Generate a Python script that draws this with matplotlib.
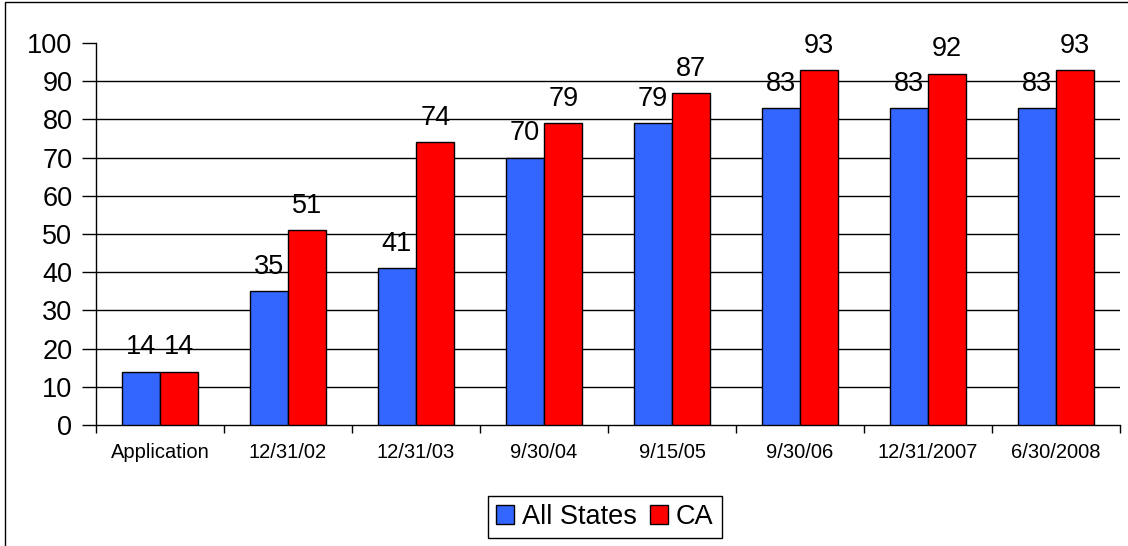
import matplotlib.pyplot as plt
import numpy as np
from matplotlib.patches import Rectangle

categories = ['Application', '12/31/02', '12/31/03', '9/30/04', '9/15/05',
              '9/30/06', '12/31/2007', '6/30/2008']
all_states = [14, 35, 41, 70, 79, 83, 83, 83]
ca = [14, 51, 74, 79, 87, 93, 92, 93]

BLUE = '#3366FF'
RED = '#FF0000'

plt.rcParams['font.family'] = ['Liberation Sans', 'DejaVu Sans']

fig = plt.figure(figsize=(11.28, 5.46), dpi=100)
ax = fig.add_axes([96 / 1128, 1 - 425 / 546, (1120 - 96) / 1128, (425 - 43) / 546])

x = np.arange(len(categories))
width = 0.3
bars_a = ax.bar(x - width / 2, all_states, width, color=BLUE, edgecolor='black',
                linewidth=1, label='All States', zorder=3)
bars_c = ax.bar(x + width / 2, ca, width, color=RED, edgecolor='black',
                linewidth=1, label='CA', zorder=3)
for bars in (bars_a, bars_c):
    ax.bar_label(bars, padding=8, fontsize=19.5)

ax.set_xlim(-0.5, len(categories) - 0.5)
ax.set_ylim(0, 100)
ax.set_yticks(range(0, 101, 10))
for v in range(10, 100, 10):
    ax.axhline(v, color='black', linewidth=1, zorder=1)

ax.set_xticks(x)
ax.set_xticklabels(categories, fontsize=14.5)
ax.set_xticks(np.arange(-0.5, len(categories)), minor=True)
ax.tick_params(axis='x', which='major', length=0, pad=13)
ax.tick_params(axis='x', which='minor', length=6, width=1, color='black')
ax.tick_params(axis='y', length=10, width=1, labelsize=19.5, pad=7)

for side in ('top', 'right'):
    ax.spines[side].set_visible(False)
for side in ('left', 'bottom'):
    ax.spines[side].set_linewidth(1)
    ax.spines[side].set_color('black')

leg = fig.legend(handles=[bars_a, bars_c], loc='center',
                 bbox_to_anchor=(605 / 1128, 1 - 517 / 546), ncol=2,
                 fontsize=19.5, frameon=True, fancybox=False, edgecolor='black',
                 framealpha=1, handlelength=0.65, handleheight=0.65,
                 handletextpad=0.3, columnspacing=0.5, borderpad=0.3,
                 borderaxespad=0)
leg.get_frame().set_linewidth(1)

fig.patches.append(Rectangle((5 / 1128, -0.1), 1.2, 1.1 - 2 / 546,
                             transform=fig.transFigure, fill=False,
                             edgecolor='black', linewidth=1))

fig.savefig('out.png', dpi=100)
